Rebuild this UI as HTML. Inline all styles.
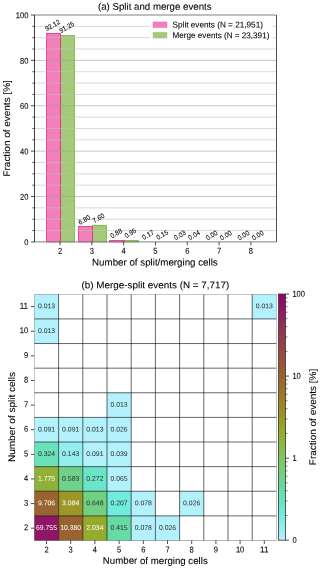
<!DOCTYPE html>
<html><head><meta charset="utf-8"><style>html,body{margin:0;padding:0;background:#fff;width:320px;height:569px;overflow:hidden}text{text-rendering:geometricPrecision;font-family:"Liberation Sans", sans-serif;stroke:currentColor;stroke-width:0.08px}</style></head><body>
<svg width="320" height="569" viewBox="0 0 320 569" style="display:block;will-change:transform">
<rect x="0" y="0" width="320" height="569" fill="#fff"/>
<rect x="60.50" y="35.50" width="14.00" height="206.40" fill="#66a61e" fill-opacity="0.6" stroke="#66a61e" stroke-opacity="0.65" stroke-width="1.0"/>
<rect x="92.50" y="225.50" width="14.00" height="16.40" fill="#66a61e" fill-opacity="0.6" stroke="#66a61e" stroke-opacity="0.65" stroke-width="1.0"/>
<rect x="124.50" y="240.50" width="14.00" height="1.40" fill="#66a61e" fill-opacity="0.6" stroke="#66a61e" stroke-opacity="0.65" stroke-width="1.0"/>
<rect x="46.50" y="33.50" width="14.00" height="208.40" fill="#e7298a" fill-opacity="0.6" stroke="#e7298a" stroke-opacity="0.8" stroke-width="1.0"/>
<rect x="78.50" y="226.50" width="14.00" height="15.40" fill="#e7298a" fill-opacity="0.6" stroke="#e7298a" stroke-opacity="0.8" stroke-width="1.0"/>
<rect x="109.50" y="240.50" width="15.00" height="1.40" fill="#e7298a" fill-opacity="0.6" stroke="#e7298a" stroke-opacity="0.8" stroke-width="1.0"/>
<line x1="34.4" y1="230.56" x2="276.4" y2="230.56" stroke="#c0c0c0" stroke-width="0.6"/>
<line x1="34.4" y1="219.21" x2="276.4" y2="219.21" stroke="#c0c0c0" stroke-width="0.6"/>
<line x1="34.4" y1="207.87" x2="276.4" y2="207.87" stroke="#c0c0c0" stroke-width="0.6"/>
<line x1="34.4" y1="196.52" x2="276.4" y2="196.52" stroke="#a0a0a0" stroke-width="0.6"/>
<line x1="34.4" y1="185.18" x2="276.4" y2="185.18" stroke="#c0c0c0" stroke-width="0.6"/>
<line x1="34.4" y1="173.83" x2="276.4" y2="173.83" stroke="#c0c0c0" stroke-width="0.6"/>
<line x1="34.4" y1="162.49" x2="276.4" y2="162.49" stroke="#c0c0c0" stroke-width="0.6"/>
<line x1="34.4" y1="151.14" x2="276.4" y2="151.14" stroke="#a0a0a0" stroke-width="0.6"/>
<line x1="34.4" y1="139.80" x2="276.4" y2="139.80" stroke="#c0c0c0" stroke-width="0.6"/>
<line x1="34.4" y1="128.45" x2="276.4" y2="128.45" stroke="#c0c0c0" stroke-width="0.6"/>
<line x1="34.4" y1="117.11" x2="276.4" y2="117.11" stroke="#c0c0c0" stroke-width="0.6"/>
<line x1="34.4" y1="105.76" x2="276.4" y2="105.76" stroke="#a0a0a0" stroke-width="0.6"/>
<line x1="34.4" y1="94.41" x2="276.4" y2="94.41" stroke="#c0c0c0" stroke-width="0.6"/>
<line x1="34.4" y1="83.07" x2="276.4" y2="83.07" stroke="#c0c0c0" stroke-width="0.6"/>
<line x1="34.4" y1="71.72" x2="276.4" y2="71.72" stroke="#c0c0c0" stroke-width="0.6"/>
<line x1="34.4" y1="60.38" x2="276.4" y2="60.38" stroke="#a0a0a0" stroke-width="0.6"/>
<line x1="34.4" y1="49.03" x2="276.4" y2="49.03" stroke="#c0c0c0" stroke-width="0.6"/>
<line x1="34.4" y1="37.69" x2="276.4" y2="37.69" stroke="#c0c0c0" stroke-width="0.6"/>
<line x1="34.4" y1="26.34" x2="276.4" y2="26.34" stroke="#c0c0c0" stroke-width="0.6"/>
<rect x="150" y="17" width="122.8" height="24" fill="#fff"/>
<rect x="153" y="21.95" width="14" height="5.6" fill="#f17fb9" stroke="#e83d96" stroke-width="0.5" stroke-opacity="0.6"/>
<rect x="153" y="32.4" width="14" height="5.7" fill="#a3ca78" stroke="#84bd4c" stroke-width="0.5" stroke-opacity="0.6"/>
<text x="172.60" y="27.50" font-size="8.40" text-anchor="start" textLength="90.33" lengthAdjust="spacingAndGlyphs" fill="#000" color="#000" transform="rotate(0.05 172.60 27.50)">Split events (N = 21,951)</text>
<text x="172.60" y="38.10" font-size="8.40" text-anchor="start" textLength="96.76" lengthAdjust="spacingAndGlyphs" fill="#000" color="#000" transform="rotate(0.05 172.60 38.10)">Merge events (N = 23,391)</text>
<line x1="34.4" y1="15.0" x2="276.4" y2="15.0" stroke="#808080" stroke-width="1"/>
<line x1="34.4" y1="241.9" x2="276.4" y2="241.9" stroke="#808080" stroke-width="1"/>
<line x1="34.5" y1="15.0" x2="34.5" y2="241.9" stroke="#000" stroke-width="0.75"/>
<line x1="276.5" y1="15.0" x2="276.5" y2="241.9" stroke="#000" stroke-width="0.7"/>
<line x1="30.90" y1="241.90" x2="34.4" y2="241.90" stroke="#222" stroke-width="0.8"/>
<text x="28.40" y="245.20" font-size="8.50" text-anchor="end" textLength="4.20" lengthAdjust="spacingAndGlyphs" fill="#000" color="#000" transform="rotate(0.05 28.40 245.20)">0</text>
<line x1="32.40" y1="230.56" x2="34.4" y2="230.56" stroke="#222" stroke-width="0.8"/>
<line x1="32.40" y1="219.21" x2="34.4" y2="219.21" stroke="#222" stroke-width="0.8"/>
<line x1="32.40" y1="207.87" x2="34.4" y2="207.87" stroke="#222" stroke-width="0.8"/>
<line x1="30.90" y1="196.52" x2="34.4" y2="196.52" stroke="#222" stroke-width="0.8"/>
<text x="28.40" y="199.82" font-size="8.50" text-anchor="end" textLength="8.40" lengthAdjust="spacingAndGlyphs" fill="#000" color="#000" transform="rotate(0.05 28.40 199.82)">20</text>
<line x1="32.40" y1="185.18" x2="34.4" y2="185.18" stroke="#222" stroke-width="0.8"/>
<line x1="32.40" y1="173.83" x2="34.4" y2="173.83" stroke="#222" stroke-width="0.8"/>
<line x1="32.40" y1="162.49" x2="34.4" y2="162.49" stroke="#222" stroke-width="0.8"/>
<line x1="30.90" y1="151.14" x2="34.4" y2="151.14" stroke="#222" stroke-width="0.8"/>
<text x="28.40" y="154.44" font-size="8.50" text-anchor="end" textLength="8.40" lengthAdjust="spacingAndGlyphs" fill="#000" color="#000" transform="rotate(0.05 28.40 154.44)">40</text>
<line x1="32.40" y1="139.80" x2="34.4" y2="139.80" stroke="#222" stroke-width="0.8"/>
<line x1="32.40" y1="128.45" x2="34.4" y2="128.45" stroke="#222" stroke-width="0.8"/>
<line x1="32.40" y1="117.11" x2="34.4" y2="117.11" stroke="#222" stroke-width="0.8"/>
<line x1="30.90" y1="105.76" x2="34.4" y2="105.76" stroke="#222" stroke-width="0.8"/>
<text x="28.40" y="109.06" font-size="8.50" text-anchor="end" textLength="8.40" lengthAdjust="spacingAndGlyphs" fill="#000" color="#000" transform="rotate(0.05 28.40 109.06)">60</text>
<line x1="32.40" y1="94.41" x2="34.4" y2="94.41" stroke="#222" stroke-width="0.8"/>
<line x1="32.40" y1="83.07" x2="34.4" y2="83.07" stroke="#222" stroke-width="0.8"/>
<line x1="32.40" y1="71.72" x2="34.4" y2="71.72" stroke="#222" stroke-width="0.8"/>
<line x1="30.90" y1="60.38" x2="34.4" y2="60.38" stroke="#222" stroke-width="0.8"/>
<text x="28.40" y="63.68" font-size="8.50" text-anchor="end" textLength="8.40" lengthAdjust="spacingAndGlyphs" fill="#000" color="#000" transform="rotate(0.05 28.40 63.68)">80</text>
<line x1="32.40" y1="49.03" x2="34.4" y2="49.03" stroke="#222" stroke-width="0.8"/>
<line x1="32.40" y1="37.69" x2="34.4" y2="37.69" stroke="#222" stroke-width="0.8"/>
<line x1="32.40" y1="26.34" x2="34.4" y2="26.34" stroke="#222" stroke-width="0.8"/>
<line x1="30.90" y1="15.00" x2="34.4" y2="15.00" stroke="#222" stroke-width="0.8"/>
<text x="28.40" y="18.30" font-size="8.50" text-anchor="end" textLength="12.60" lengthAdjust="spacingAndGlyphs" fill="#000" color="#000" transform="rotate(0.05 28.40 18.30)">100</text>
<line x1="60.00" y1="241.9" x2="60.00" y2="245.4" stroke="#222" stroke-width="0.8"/>
<text x="60.00" y="253.70" font-size="8.50" text-anchor="middle" textLength="4.20" lengthAdjust="spacingAndGlyphs" fill="#000" color="#000" transform="rotate(0.05 60.00 253.70)">2</text>
<line x1="91.82" y1="241.9" x2="91.82" y2="245.4" stroke="#222" stroke-width="0.8"/>
<text x="91.82" y="253.70" font-size="8.50" text-anchor="middle" textLength="4.20" lengthAdjust="spacingAndGlyphs" fill="#000" color="#000" transform="rotate(0.05 91.82 253.70)">3</text>
<line x1="123.64" y1="241.9" x2="123.64" y2="245.4" stroke="#222" stroke-width="0.8"/>
<text x="123.64" y="253.70" font-size="8.50" text-anchor="middle" textLength="4.20" lengthAdjust="spacingAndGlyphs" fill="#000" color="#000" transform="rotate(0.05 123.64 253.70)">4</text>
<line x1="155.46" y1="241.9" x2="155.46" y2="245.4" stroke="#222" stroke-width="0.8"/>
<text x="155.46" y="253.70" font-size="8.50" text-anchor="middle" textLength="4.20" lengthAdjust="spacingAndGlyphs" fill="#000" color="#000" transform="rotate(0.05 155.46 253.70)">5</text>
<line x1="187.28" y1="241.9" x2="187.28" y2="245.4" stroke="#222" stroke-width="0.8"/>
<text x="187.28" y="253.70" font-size="8.50" text-anchor="middle" textLength="4.20" lengthAdjust="spacingAndGlyphs" fill="#000" color="#000" transform="rotate(0.05 187.28 253.70)">6</text>
<line x1="219.10" y1="241.9" x2="219.10" y2="245.4" stroke="#222" stroke-width="0.8"/>
<text x="219.10" y="253.70" font-size="8.50" text-anchor="middle" textLength="4.20" lengthAdjust="spacingAndGlyphs" fill="#000" color="#000" transform="rotate(0.05 219.10 253.70)">7</text>
<line x1="250.92" y1="241.9" x2="250.92" y2="245.4" stroke="#222" stroke-width="0.8"/>
<text x="250.92" y="253.70" font-size="8.50" text-anchor="middle" textLength="4.20" lengthAdjust="spacingAndGlyphs" fill="#000" color="#000" transform="rotate(0.05 250.92 253.70)">8</text>
<text x="0" y="0" font-size="6.80" text-anchor="middle" dy="2.38" color="#000" textLength="16.03" lengthAdjust="spacingAndGlyphs" transform="translate(52.50 25.28) rotate(-30)">92.12</text>
<text x="0" y="0" font-size="6.80" text-anchor="middle" dy="2.38" color="#000" textLength="16.03" lengthAdjust="spacingAndGlyphs" transform="translate(66.70 27.25) rotate(-30)">91.25</text>
<text x="0" y="0" font-size="6.80" text-anchor="middle" dy="2.38" color="#000" textLength="12.47" lengthAdjust="spacingAndGlyphs" transform="translate(84.32 219.76) rotate(-30)">6.80</text>
<text x="0" y="0" font-size="6.80" text-anchor="middle" dy="2.38" color="#000" textLength="12.47" lengthAdjust="spacingAndGlyphs" transform="translate(98.52 217.95) rotate(-30)">7.60</text>
<text x="0" y="0" font-size="6.80" text-anchor="middle" dy="2.38" color="#000" textLength="12.47" lengthAdjust="spacingAndGlyphs" transform="translate(116.14 233.19) rotate(-30)">0.88</text>
<text x="0" y="0" font-size="6.80" text-anchor="middle" dy="2.38" color="#000" textLength="12.47" lengthAdjust="spacingAndGlyphs" transform="translate(130.34 233.04) rotate(-30)">0.95</text>
<text x="0" y="0" font-size="6.80" text-anchor="middle" dy="2.38" color="#000" textLength="12.47" lengthAdjust="spacingAndGlyphs" transform="translate(147.96 234.81) rotate(-30)">0.17</text>
<text x="0" y="0" font-size="6.80" text-anchor="middle" dy="2.38" color="#000" textLength="12.47" lengthAdjust="spacingAndGlyphs" transform="translate(162.16 234.85) rotate(-30)">0.15</text>
<text x="0" y="0" font-size="6.80" text-anchor="middle" dy="2.38" color="#000" textLength="12.47" lengthAdjust="spacingAndGlyphs" transform="translate(179.78 235.12) rotate(-30)">0.03</text>
<text x="0" y="0" font-size="6.80" text-anchor="middle" dy="2.38" color="#000" textLength="12.47" lengthAdjust="spacingAndGlyphs" transform="translate(193.98 235.10) rotate(-30)">0.04</text>
<text x="0" y="0" font-size="6.80" text-anchor="middle" dy="2.38" color="#000" textLength="12.47" lengthAdjust="spacingAndGlyphs" transform="translate(211.60 235.19) rotate(-30)">0.00</text>
<text x="0" y="0" font-size="6.80" text-anchor="middle" dy="2.38" color="#000" textLength="12.47" lengthAdjust="spacingAndGlyphs" transform="translate(225.80 235.19) rotate(-30)">0.00</text>
<text x="0" y="0" font-size="6.80" text-anchor="middle" dy="2.38" color="#000" textLength="12.47" lengthAdjust="spacingAndGlyphs" transform="translate(243.42 235.19) rotate(-30)">0.00</text>
<text x="0" y="0" font-size="6.80" text-anchor="middle" dy="2.38" color="#000" textLength="12.47" lengthAdjust="spacingAndGlyphs" transform="translate(257.62 235.19) rotate(-30)">0.00</text>
<text x="154.80" y="9.80" font-size="9.60" text-anchor="middle" textLength="113.61" lengthAdjust="spacingAndGlyphs" fill="#000" color="#000" transform="rotate(0.05 154.80 9.80)">(a) Split and merge events</text>
<text x="154.90" y="265.50" font-size="9.60" text-anchor="middle" textLength="125.64" lengthAdjust="spacingAndGlyphs" fill="#000" color="#000" transform="rotate(0.05 154.90 265.50)">Number of split/merging cells</text>
<text x="9.90" y="128.40" font-size="9.60" text-anchor="middle" textLength="96.33" lengthAdjust="spacingAndGlyphs" fill="#000" color="#000" transform="rotate(-90 9.90 128.40)">Fraction of events [%]</text>
<rect x="34.40" y="294.30" width="24.20" height="24.62" fill="#b3f2fd"/>
<rect x="252.20" y="294.30" width="24.20" height="24.62" fill="#b3f2fd"/>
<rect x="34.40" y="318.92" width="24.20" height="24.62" fill="#b3f2fd"/>
<rect x="107.00" y="392.78" width="24.20" height="24.62" fill="#b3f2fd"/>
<rect x="34.40" y="417.40" width="24.20" height="24.62" fill="#b3f2fd"/>
<rect x="58.60" y="417.40" width="24.20" height="24.62" fill="#b3f2fd"/>
<rect x="82.80" y="417.40" width="24.20" height="24.62" fill="#b3f2fd"/>
<rect x="107.00" y="417.40" width="24.20" height="24.62" fill="#b3f2fd"/>
<rect x="34.40" y="442.02" width="24.20" height="24.62" fill="#69e1ba"/>
<rect x="58.60" y="442.02" width="24.20" height="24.62" fill="#92efed"/>
<rect x="82.80" y="442.02" width="24.20" height="24.62" fill="#b3f2fd"/>
<rect x="107.00" y="442.02" width="24.20" height="24.62" fill="#b3f2fd"/>
<rect x="34.40" y="466.64" width="24.20" height="24.62" fill="#91b037"/>
<rect x="58.60" y="466.64" width="24.20" height="24.62" fill="#6ed28a"/>
<rect x="82.80" y="466.64" width="24.20" height="24.62" fill="#6ae5c8"/>
<rect x="107.00" y="466.64" width="24.20" height="24.62" fill="#b3f2fd"/>
<rect x="34.40" y="491.26" width="24.20" height="24.62" fill="#99642f"/>
<rect x="58.60" y="491.26" width="24.20" height="24.62" fill="#9a9724"/>
<rect x="82.80" y="491.26" width="24.20" height="24.62" fill="#71d081"/>
<rect x="107.00" y="491.26" width="24.20" height="24.62" fill="#70ebdd"/>
<rect x="131.20" y="491.26" width="24.20" height="24.62" fill="#b3f2fd"/>
<rect x="179.60" y="491.26" width="24.20" height="24.62" fill="#b3f2fd"/>
<rect x="34.40" y="515.88" width="24.20" height="24.62" fill="#8f1567"/>
<rect x="58.60" y="515.88" width="24.20" height="24.62" fill="#996231"/>
<rect x="82.80" y="515.88" width="24.20" height="24.62" fill="#95ab2e"/>
<rect x="107.00" y="515.88" width="24.20" height="24.62" fill="#67dba5"/>
<rect x="131.20" y="515.88" width="24.20" height="24.62" fill="#b3f2fd"/>
<rect x="155.40" y="515.88" width="24.20" height="24.62" fill="#b3f2fd"/>
<line x1="58.60" y1="294.3" x2="58.60" y2="540.50" stroke="#000" stroke-width="0.6"/>
<line x1="82.80" y1="294.3" x2="82.80" y2="540.50" stroke="#000" stroke-width="0.6"/>
<line x1="107.00" y1="294.3" x2="107.00" y2="540.50" stroke="#000" stroke-width="0.6"/>
<line x1="131.20" y1="294.3" x2="131.20" y2="540.50" stroke="#000" stroke-width="0.6"/>
<line x1="155.40" y1="294.3" x2="155.40" y2="540.50" stroke="#000" stroke-width="0.6"/>
<line x1="179.60" y1="294.3" x2="179.60" y2="540.50" stroke="#000" stroke-width="0.6"/>
<line x1="203.80" y1="294.3" x2="203.80" y2="540.50" stroke="#000" stroke-width="0.6"/>
<line x1="228.00" y1="294.3" x2="228.00" y2="540.50" stroke="#000" stroke-width="0.6"/>
<line x1="252.20" y1="294.3" x2="252.20" y2="540.50" stroke="#000" stroke-width="0.6"/>
<line x1="34.4" y1="318.92" x2="276.40" y2="318.92" stroke="#000" stroke-width="0.6"/>
<line x1="34.4" y1="343.54" x2="276.40" y2="343.54" stroke="#000" stroke-width="0.6"/>
<line x1="34.4" y1="368.16" x2="276.40" y2="368.16" stroke="#000" stroke-width="0.6"/>
<line x1="34.4" y1="392.78" x2="276.40" y2="392.78" stroke="#000" stroke-width="0.6"/>
<line x1="34.4" y1="417.40" x2="276.40" y2="417.40" stroke="#000" stroke-width="0.6"/>
<line x1="34.4" y1="442.02" x2="276.40" y2="442.02" stroke="#000" stroke-width="0.6"/>
<line x1="34.4" y1="466.64" x2="276.40" y2="466.64" stroke="#000" stroke-width="0.6"/>
<line x1="34.4" y1="491.26" x2="276.40" y2="491.26" stroke="#000" stroke-width="0.6"/>
<line x1="34.4" y1="515.88" x2="276.40" y2="515.88" stroke="#000" stroke-width="0.6"/>
<line x1="34.5" y1="294.3" x2="34.5" y2="540.50" stroke="#000" stroke-width="0.22"/>
<line x1="276.5" y1="294.3" x2="276.5" y2="540.50" stroke="#000" stroke-width="0.22"/>
<line x1="34.4" y1="294.5" x2="276.40" y2="294.5" stroke="#000" stroke-width="0.22"/>
<line x1="34.4" y1="540.5" x2="276.40" y2="540.5" stroke="#000" stroke-width="0.3"/>
<text x="46.50" y="308.31" font-size="6.80" text-anchor="middle" textLength="17.18" lengthAdjust="spacingAndGlyphs" fill="#333" color="#333" transform="rotate(0.05 46.50 308.31)" style="stroke-width:0.02px">0.013</text>
<text x="264.30" y="308.31" font-size="6.80" text-anchor="middle" textLength="17.18" lengthAdjust="spacingAndGlyphs" fill="#333" color="#333" transform="rotate(0.05 264.30 308.31)" style="stroke-width:0.02px">0.013</text>
<text x="46.50" y="332.93" font-size="6.80" text-anchor="middle" textLength="17.18" lengthAdjust="spacingAndGlyphs" fill="#333" color="#333" transform="rotate(0.05 46.50 332.93)" style="stroke-width:0.02px">0.013</text>
<text x="119.10" y="406.79" font-size="6.80" text-anchor="middle" textLength="17.18" lengthAdjust="spacingAndGlyphs" fill="#333" color="#333" transform="rotate(0.05 119.10 406.79)" style="stroke-width:0.02px">0.013</text>
<text x="46.50" y="431.41" font-size="6.80" text-anchor="middle" textLength="17.18" lengthAdjust="spacingAndGlyphs" fill="#333" color="#333" transform="rotate(0.05 46.50 431.41)" style="stroke-width:0.02px">0.091</text>
<text x="70.70" y="431.41" font-size="6.80" text-anchor="middle" textLength="17.18" lengthAdjust="spacingAndGlyphs" fill="#333" color="#333" transform="rotate(0.05 70.70 431.41)" style="stroke-width:0.02px">0.091</text>
<text x="94.90" y="431.41" font-size="6.80" text-anchor="middle" textLength="17.18" lengthAdjust="spacingAndGlyphs" fill="#333" color="#333" transform="rotate(0.05 94.90 431.41)" style="stroke-width:0.02px">0.013</text>
<text x="119.10" y="431.41" font-size="6.80" text-anchor="middle" textLength="17.18" lengthAdjust="spacingAndGlyphs" fill="#333" color="#333" transform="rotate(0.05 119.10 431.41)" style="stroke-width:0.02px">0.026</text>
<text x="46.50" y="456.03" font-size="6.80" text-anchor="middle" textLength="17.18" lengthAdjust="spacingAndGlyphs" fill="#333" color="#333" transform="rotate(0.05 46.50 456.03)" style="stroke-width:0.02px">0.324</text>
<text x="70.70" y="456.03" font-size="6.80" text-anchor="middle" textLength="17.18" lengthAdjust="spacingAndGlyphs" fill="#333" color="#333" transform="rotate(0.05 70.70 456.03)" style="stroke-width:0.02px">0.143</text>
<text x="94.90" y="456.03" font-size="6.80" text-anchor="middle" textLength="17.18" lengthAdjust="spacingAndGlyphs" fill="#333" color="#333" transform="rotate(0.05 94.90 456.03)" style="stroke-width:0.02px">0.091</text>
<text x="119.10" y="456.03" font-size="6.80" text-anchor="middle" textLength="17.18" lengthAdjust="spacingAndGlyphs" fill="#333" color="#333" transform="rotate(0.05 119.10 456.03)" style="stroke-width:0.02px">0.039</text>
<text x="46.50" y="480.65" font-size="6.80" text-anchor="middle" textLength="17.18" lengthAdjust="spacingAndGlyphs" fill="#fff" color="#fff" transform="rotate(0.05 46.50 480.65)" style="stroke-width:0.02px">1.775</text>
<text x="70.70" y="480.65" font-size="6.80" text-anchor="middle" textLength="17.18" lengthAdjust="spacingAndGlyphs" fill="#333" color="#333" transform="rotate(0.05 70.70 480.65)" style="stroke-width:0.02px">0.583</text>
<text x="94.90" y="480.65" font-size="6.80" text-anchor="middle" textLength="17.18" lengthAdjust="spacingAndGlyphs" fill="#333" color="#333" transform="rotate(0.05 94.90 480.65)" style="stroke-width:0.02px">0.272</text>
<text x="119.10" y="480.65" font-size="6.80" text-anchor="middle" textLength="17.18" lengthAdjust="spacingAndGlyphs" fill="#333" color="#333" transform="rotate(0.05 119.10 480.65)" style="stroke-width:0.02px">0.065</text>
<text x="46.50" y="505.27" font-size="6.80" text-anchor="middle" textLength="17.18" lengthAdjust="spacingAndGlyphs" fill="#fff" color="#fff" transform="rotate(0.05 46.50 505.27)" style="stroke-width:0.02px">9.706</text>
<text x="70.70" y="505.27" font-size="6.80" text-anchor="middle" textLength="17.18" lengthAdjust="spacingAndGlyphs" fill="#fff" color="#fff" transform="rotate(0.05 70.70 505.27)" style="stroke-width:0.02px">3.084</text>
<text x="94.90" y="505.27" font-size="6.80" text-anchor="middle" textLength="17.18" lengthAdjust="spacingAndGlyphs" fill="#333" color="#333" transform="rotate(0.05 94.90 505.27)" style="stroke-width:0.02px">0.648</text>
<text x="119.10" y="505.27" font-size="6.80" text-anchor="middle" textLength="17.18" lengthAdjust="spacingAndGlyphs" fill="#333" color="#333" transform="rotate(0.05 119.10 505.27)" style="stroke-width:0.02px">0.207</text>
<text x="143.30" y="505.27" font-size="6.80" text-anchor="middle" textLength="17.18" lengthAdjust="spacingAndGlyphs" fill="#333" color="#333" transform="rotate(0.05 143.30 505.27)" style="stroke-width:0.02px">0.078</text>
<text x="191.70" y="505.27" font-size="6.80" text-anchor="middle" textLength="17.18" lengthAdjust="spacingAndGlyphs" fill="#333" color="#333" transform="rotate(0.05 191.70 505.27)" style="stroke-width:0.02px">0.026</text>
<text x="46.50" y="529.89" font-size="6.80" text-anchor="middle" textLength="20.99" lengthAdjust="spacingAndGlyphs" fill="#fff" color="#fff" transform="rotate(0.05 46.50 529.89)" style="stroke-width:0.02px">69.755</text>
<text x="70.70" y="529.89" font-size="6.80" text-anchor="middle" textLength="20.99" lengthAdjust="spacingAndGlyphs" fill="#fff" color="#fff" transform="rotate(0.05 70.70 529.89)" style="stroke-width:0.02px">10.380</text>
<text x="94.90" y="529.89" font-size="6.80" text-anchor="middle" textLength="17.18" lengthAdjust="spacingAndGlyphs" fill="#fff" color="#fff" transform="rotate(0.05 94.90 529.89)" style="stroke-width:0.02px">2.034</text>
<text x="119.10" y="529.89" font-size="6.80" text-anchor="middle" textLength="17.18" lengthAdjust="spacingAndGlyphs" fill="#333" color="#333" transform="rotate(0.05 119.10 529.89)" style="stroke-width:0.02px">0.415</text>
<text x="143.30" y="529.89" font-size="6.80" text-anchor="middle" textLength="17.18" lengthAdjust="spacingAndGlyphs" fill="#333" color="#333" transform="rotate(0.05 143.30 529.89)" style="stroke-width:0.02px">0.078</text>
<text x="167.50" y="529.89" font-size="6.80" text-anchor="middle" textLength="17.18" lengthAdjust="spacingAndGlyphs" fill="#333" color="#333" transform="rotate(0.05 167.50 529.89)" style="stroke-width:0.02px">0.026</text>
<line x1="46.50" y1="540.50" x2="46.50" y2="544.00" stroke="#222" stroke-width="0.8"/>
<text x="46.50" y="552.60" font-size="8.50" text-anchor="middle" textLength="4.20" lengthAdjust="spacingAndGlyphs" fill="#000" color="#000" transform="rotate(0.05 46.50 552.60)">2</text>
<line x1="70.70" y1="540.50" x2="70.70" y2="544.00" stroke="#222" stroke-width="0.8"/>
<text x="70.70" y="552.60" font-size="8.50" text-anchor="middle" textLength="4.20" lengthAdjust="spacingAndGlyphs" fill="#000" color="#000" transform="rotate(0.05 70.70 552.60)">3</text>
<line x1="94.90" y1="540.50" x2="94.90" y2="544.00" stroke="#222" stroke-width="0.8"/>
<text x="94.90" y="552.60" font-size="8.50" text-anchor="middle" textLength="4.20" lengthAdjust="spacingAndGlyphs" fill="#000" color="#000" transform="rotate(0.05 94.90 552.60)">4</text>
<line x1="119.10" y1="540.50" x2="119.10" y2="544.00" stroke="#222" stroke-width="0.8"/>
<text x="119.10" y="552.60" font-size="8.50" text-anchor="middle" textLength="4.20" lengthAdjust="spacingAndGlyphs" fill="#000" color="#000" transform="rotate(0.05 119.10 552.60)">5</text>
<line x1="143.30" y1="540.50" x2="143.30" y2="544.00" stroke="#222" stroke-width="0.8"/>
<text x="143.30" y="552.60" font-size="8.50" text-anchor="middle" textLength="4.20" lengthAdjust="spacingAndGlyphs" fill="#000" color="#000" transform="rotate(0.05 143.30 552.60)">6</text>
<line x1="167.50" y1="540.50" x2="167.50" y2="544.00" stroke="#222" stroke-width="0.8"/>
<text x="167.50" y="552.60" font-size="8.50" text-anchor="middle" textLength="4.20" lengthAdjust="spacingAndGlyphs" fill="#000" color="#000" transform="rotate(0.05 167.50 552.60)">7</text>
<line x1="191.70" y1="540.50" x2="191.70" y2="544.00" stroke="#222" stroke-width="0.8"/>
<text x="191.70" y="552.60" font-size="8.50" text-anchor="middle" textLength="4.20" lengthAdjust="spacingAndGlyphs" fill="#000" color="#000" transform="rotate(0.05 191.70 552.60)">8</text>
<line x1="215.90" y1="540.50" x2="215.90" y2="544.00" stroke="#222" stroke-width="0.8"/>
<text x="215.90" y="552.60" font-size="8.50" text-anchor="middle" textLength="4.20" lengthAdjust="spacingAndGlyphs" fill="#000" color="#000" transform="rotate(0.05 215.90 552.60)">9</text>
<line x1="240.10" y1="540.50" x2="240.10" y2="544.00" stroke="#222" stroke-width="0.8"/>
<text x="240.10" y="552.60" font-size="8.50" text-anchor="middle" textLength="8.40" lengthAdjust="spacingAndGlyphs" fill="#000" color="#000" transform="rotate(0.05 240.10 552.60)">10</text>
<line x1="264.30" y1="540.50" x2="264.30" y2="544.00" stroke="#222" stroke-width="0.8"/>
<text x="264.30" y="552.60" font-size="8.50" text-anchor="middle" textLength="8.40" lengthAdjust="spacingAndGlyphs" fill="#000" color="#000" transform="rotate(0.05 264.30 552.60)">11</text>
<line x1="30.90" y1="528.19" x2="34.4" y2="528.19" stroke="#222" stroke-width="0.8"/>
<text x="28.10" y="530.29" font-size="8.50" text-anchor="end" textLength="4.20" lengthAdjust="spacingAndGlyphs" fill="#000" color="#000" transform="rotate(0.05 28.10 530.29)">2</text>
<line x1="30.90" y1="503.57" x2="34.4" y2="503.57" stroke="#222" stroke-width="0.8"/>
<text x="28.10" y="505.67" font-size="8.50" text-anchor="end" textLength="4.20" lengthAdjust="spacingAndGlyphs" fill="#000" color="#000" transform="rotate(0.05 28.10 505.67)">3</text>
<line x1="30.90" y1="478.95" x2="34.4" y2="478.95" stroke="#222" stroke-width="0.8"/>
<text x="28.10" y="481.05" font-size="8.50" text-anchor="end" textLength="4.20" lengthAdjust="spacingAndGlyphs" fill="#000" color="#000" transform="rotate(0.05 28.10 481.05)">4</text>
<line x1="30.90" y1="454.33" x2="34.4" y2="454.33" stroke="#222" stroke-width="0.8"/>
<text x="28.10" y="456.43" font-size="8.50" text-anchor="end" textLength="4.20" lengthAdjust="spacingAndGlyphs" fill="#000" color="#000" transform="rotate(0.05 28.10 456.43)">5</text>
<line x1="30.90" y1="429.71" x2="34.4" y2="429.71" stroke="#222" stroke-width="0.8"/>
<text x="28.10" y="431.81" font-size="8.50" text-anchor="end" textLength="4.20" lengthAdjust="spacingAndGlyphs" fill="#000" color="#000" transform="rotate(0.05 28.10 431.81)">6</text>
<line x1="30.90" y1="405.09" x2="34.4" y2="405.09" stroke="#222" stroke-width="0.8"/>
<text x="28.10" y="407.19" font-size="8.50" text-anchor="end" textLength="4.20" lengthAdjust="spacingAndGlyphs" fill="#000" color="#000" transform="rotate(0.05 28.10 407.19)">7</text>
<line x1="30.90" y1="380.47" x2="34.4" y2="380.47" stroke="#222" stroke-width="0.8"/>
<text x="28.10" y="382.57" font-size="8.50" text-anchor="end" textLength="4.20" lengthAdjust="spacingAndGlyphs" fill="#000" color="#000" transform="rotate(0.05 28.10 382.57)">8</text>
<line x1="30.90" y1="355.85" x2="34.4" y2="355.85" stroke="#222" stroke-width="0.8"/>
<text x="28.10" y="357.95" font-size="8.50" text-anchor="end" textLength="4.20" lengthAdjust="spacingAndGlyphs" fill="#000" color="#000" transform="rotate(0.05 28.10 357.95)">9</text>
<line x1="30.90" y1="331.23" x2="34.4" y2="331.23" stroke="#222" stroke-width="0.8"/>
<text x="28.10" y="333.33" font-size="8.50" text-anchor="end" textLength="8.40" lengthAdjust="spacingAndGlyphs" fill="#000" color="#000" transform="rotate(0.05 28.10 333.33)">10</text>
<line x1="30.90" y1="306.61" x2="34.4" y2="306.61" stroke="#222" stroke-width="0.8"/>
<text x="28.10" y="308.71" font-size="8.50" text-anchor="end" textLength="8.40" lengthAdjust="spacingAndGlyphs" fill="#000" color="#000" transform="rotate(0.05 28.10 308.71)">11</text>
<text x="155.40" y="288.30" font-size="9.60" text-anchor="middle" textLength="147.82" lengthAdjust="spacingAndGlyphs" fill="#000" color="#000" transform="rotate(0.05 155.40 288.30)">(b) Merge-split events (N = 7,717)</text>
<text x="155.30" y="563.90" font-size="9.60" text-anchor="middle" textLength="104.89" lengthAdjust="spacingAndGlyphs" fill="#000" color="#000" transform="rotate(0.05 155.30 563.90)">Number of merging cells</text>
<text x="14.80" y="417.00" font-size="9.60" text-anchor="middle" textLength="89.95" lengthAdjust="spacingAndGlyphs" fill="#000" color="#000" transform="rotate(-90 14.80 417.00)">Number of split cells</text>
<defs><linearGradient id="cb" x1="0" y1="1" x2="0" y2="0">
<stop offset="0.0000" stop-color="#B3F2FD"/>
<stop offset="0.1111" stop-color="#6CEBDB"/>
<stop offset="0.2222" stop-color="#66D89C"/>
<stop offset="0.3333" stop-color="#80C55F"/>
<stop offset="0.4444" stop-color="#97A92A"/>
<stop offset="0.5556" stop-color="#9D831E"/>
<stop offset="0.6667" stop-color="#996330"/>
<stop offset="0.7778" stop-color="#964742"/>
<stop offset="0.8889" stop-color="#922A59"/>
<stop offset="1.0000" stop-color="#8C0273"/>
</linearGradient></defs>
<rect x="278.5" y="294.0" width="7.00" height="246.20" fill="url(#cb)" stroke="#333" stroke-width="0.8"/>
<line x1="285.5" y1="540.20" x2="289.0" y2="540.20" stroke="#222" stroke-width="0.8"/>
<text x="292.40" y="543.00" font-size="8.50" text-anchor="start" textLength="4.20" lengthAdjust="spacingAndGlyphs" fill="#000" color="#000" transform="rotate(0.05 292.40 543.00)">0</text>
<line x1="285.5" y1="458.13" x2="289.0" y2="458.13" stroke="#222" stroke-width="0.8"/>
<text x="292.40" y="460.93" font-size="8.50" text-anchor="start" textLength="4.20" lengthAdjust="spacingAndGlyphs" fill="#000" color="#000" transform="rotate(0.05 292.40 460.93)">1</text>
<line x1="285.5" y1="376.07" x2="289.0" y2="376.07" stroke="#222" stroke-width="0.8"/>
<text x="292.40" y="378.87" font-size="8.50" text-anchor="start" textLength="8.40" lengthAdjust="spacingAndGlyphs" fill="#000" color="#000" transform="rotate(0.05 292.40 378.87)">10</text>
<line x1="285.5" y1="294.00" x2="289.0" y2="294.00" stroke="#222" stroke-width="0.8"/>
<text x="292.40" y="296.80" font-size="8.50" text-anchor="start" textLength="12.60" lengthAdjust="spacingAndGlyphs" fill="#000" color="#000" transform="rotate(0.05 292.40 296.80)">100</text>
<line x1="285.5" y1="515.50" x2="287.5" y2="515.50" stroke="#222" stroke-width="0.6"/>
<line x1="285.5" y1="501.04" x2="287.5" y2="501.04" stroke="#222" stroke-width="0.6"/>
<line x1="285.5" y1="490.79" x2="287.5" y2="490.79" stroke="#222" stroke-width="0.6"/>
<line x1="285.5" y1="482.84" x2="287.5" y2="482.84" stroke="#222" stroke-width="0.6"/>
<line x1="285.5" y1="476.34" x2="287.5" y2="476.34" stroke="#222" stroke-width="0.6"/>
<line x1="285.5" y1="470.85" x2="287.5" y2="470.85" stroke="#222" stroke-width="0.6"/>
<line x1="285.5" y1="466.09" x2="287.5" y2="466.09" stroke="#222" stroke-width="0.6"/>
<line x1="285.5" y1="461.89" x2="287.5" y2="461.89" stroke="#222" stroke-width="0.6"/>
<line x1="285.5" y1="433.43" x2="287.5" y2="433.43" stroke="#222" stroke-width="0.6"/>
<line x1="285.5" y1="418.98" x2="287.5" y2="418.98" stroke="#222" stroke-width="0.6"/>
<line x1="285.5" y1="408.72" x2="287.5" y2="408.72" stroke="#222" stroke-width="0.6"/>
<line x1="285.5" y1="400.77" x2="287.5" y2="400.77" stroke="#222" stroke-width="0.6"/>
<line x1="285.5" y1="394.27" x2="287.5" y2="394.27" stroke="#222" stroke-width="0.6"/>
<line x1="285.5" y1="388.78" x2="287.5" y2="388.78" stroke="#222" stroke-width="0.6"/>
<line x1="285.5" y1="384.02" x2="287.5" y2="384.02" stroke="#222" stroke-width="0.6"/>
<line x1="285.5" y1="379.82" x2="287.5" y2="379.82" stroke="#222" stroke-width="0.6"/>
<line x1="285.5" y1="351.36" x2="287.5" y2="351.36" stroke="#222" stroke-width="0.6"/>
<line x1="285.5" y1="336.91" x2="287.5" y2="336.91" stroke="#222" stroke-width="0.6"/>
<line x1="285.5" y1="326.66" x2="287.5" y2="326.66" stroke="#222" stroke-width="0.6"/>
<line x1="285.5" y1="318.70" x2="287.5" y2="318.70" stroke="#222" stroke-width="0.6"/>
<line x1="285.5" y1="312.21" x2="287.5" y2="312.21" stroke="#222" stroke-width="0.6"/>
<line x1="285.5" y1="306.71" x2="287.5" y2="306.71" stroke="#222" stroke-width="0.6"/>
<line x1="285.5" y1="301.95" x2="287.5" y2="301.95" stroke="#222" stroke-width="0.6"/>
<line x1="285.5" y1="297.76" x2="287.5" y2="297.76" stroke="#222" stroke-width="0.6"/>
<text x="315.70" y="417.00" font-size="9.60" text-anchor="middle" textLength="96.33" lengthAdjust="spacingAndGlyphs" fill="#000" color="#000" transform="rotate(-90 315.70 417.00)">Fraction of events [%]</text>
</svg>
</body></html>
